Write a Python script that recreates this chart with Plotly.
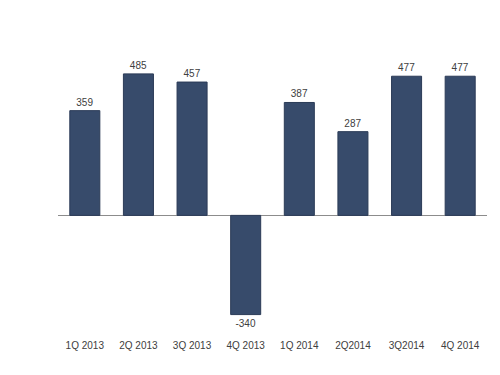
import plotly.graph_objects as go

categories = ["1Q 2013", "2Q 2013", "3Q 2013", "4Q 2013", "1Q 2014", "2Q2014", "3Q2014", "4Q 2014"]
values = [359, 485, 457, -340, 387, 287, 477, 477]
labels = [str(v) for v in values]

fig = go.Figure(go.Bar(
    x=categories, y=values, text=labels, textposition="outside",
    cliponaxis=False,
    marker=dict(color="#374B6B", line=dict(color="#2B3B57", width=1)),
    textfont=dict(family="Liberation Sans, Arial", size=10, color="#404040"),
))
fig.update_layout(
    width=500, height=375,
    margin=dict(l=50, r=21, t=44, b=48),
    paper_bgcolor="white", plot_bgcolor="white",
    bargap=0.44, showlegend=False,
    font=dict(family="Liberation Sans, Arial", size=10, color="#404040"),
)
fig.update_xaxes(showline=False, showgrid=False, ticks="", ticklabelstandoff=3,
                 tickfont=dict(size=10, color="#404040"))
fig.update_yaxes(range=[-410, 560], showgrid=False, showticklabels=False, zeroline=True,
                 zerolinecolor="#8C8C8C", zerolinewidth=1, showline=False, ticks="")
fig.write_html("out.html")
